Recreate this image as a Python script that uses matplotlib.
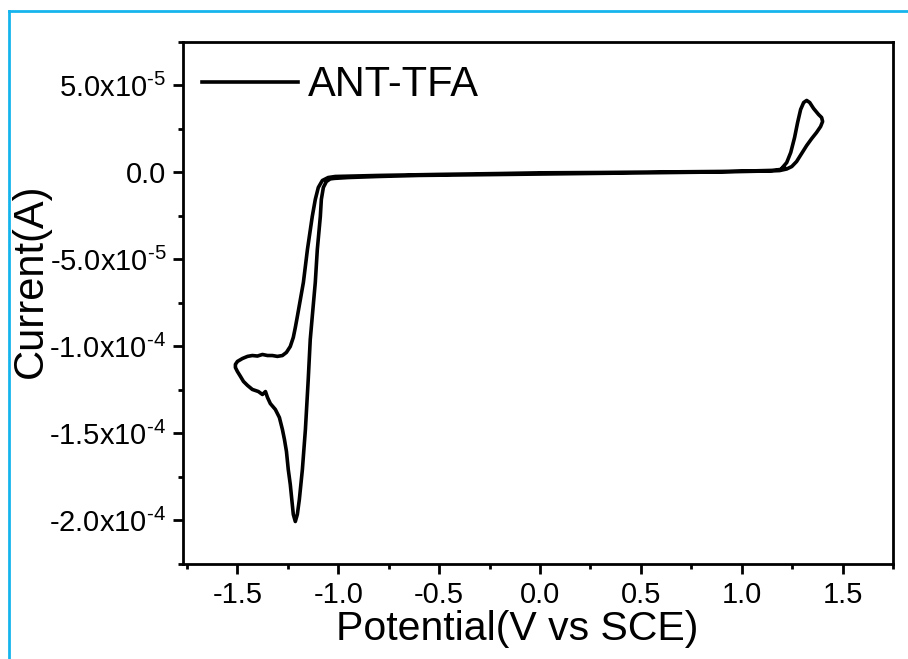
import matplotlib.pyplot as plt
import matplotlib.lines as mlines
from matplotlib.ticker import MultipleLocator, FixedLocator

plt.rcParams['font.family'] = ['Liberation Sans', 'DejaVu Sans']
plt.rcParams['mathtext.fontset'] = 'custom'
plt.rcParams['mathtext.rm'] = 'Liberation Sans'
plt.rcParams['mathtext.it'] = 'Liberation Sans:italic'

# cyclic voltammogram (potential in V, current in 1e-5 A)
potential = [0.00, 0.30, 0.60, 0.90, 1.05, 1.15, 1.19, 1.213,
             1.198, 1.223, 1.243, 1.262, 1.277, 1.292, 1.307, 1.322, 1.337, 1.356,
             1.381, 1.396, 1.401, 1.391, 1.371, 1.347, 1.322, 1.297, 1.272, 1.248,
             1.223, 1.188,
             1.15, 0.90, 0.60, 0.30, 0.00, -0.30, -0.60, -0.80, -0.95, -1.02,
             -1.040, -1.059, -1.074, -1.084, -1.089, -1.104, -1.114, -1.129, -1.139,
             -1.149, -1.163, -1.178, -1.193, -1.203, -1.213, -1.223, -1.228, -1.238,
             -1.248, -1.257, -1.267, -1.277, -1.292, -1.312, -1.337, -1.351, -1.361,
             -1.376, -1.396, -1.426, -1.450, -1.470, -1.485, -1.500, -1.510, -1.510,
             -1.500, -1.475, -1.450, -1.426, -1.401, -1.376, -1.351, -1.327, -1.302,
             -1.277, -1.257, -1.238, -1.223, -1.213, -1.203, -1.188, -1.173, -1.153,
             -1.129, -1.114, -1.099, -1.079, -1.050, -1.015, -0.80, -0.50, -0.20, 0.00]
current = [-0.02, 0.00, 0.03, 0.06, 0.09, 0.12, 0.17, 0.29,
           0.23, 0.57, 1.15, 2.01, 2.87, 3.62, 4.02, 4.14, 4.02, 3.68,
           3.33, 3.16, 2.93, 2.64, 2.30, 1.95, 1.55, 1.09, 0.63, 0.34,
           0.20, 0.11,
           0.09, 0.03, -0.01, -0.05, -0.09, -0.13, -0.17, -0.23, -0.29, -0.34,
           -0.37, -0.52, -0.86, -1.55, -2.53, -4.43, -6.32, -8.28, -9.60,
           -11.90, -14.77, -17.07, -18.79, -19.65, -20.06, -19.65, -19.08, -17.93,
           -17.07, -16.03, -15.34, -14.77, -14.08, -13.62, -13.28, -12.93, -12.59,
           -12.76, -12.59, -12.47, -12.24, -12.01, -11.72, -11.44, -11.21, -11.03,
           -10.86, -10.69, -10.57, -10.52, -10.55, -10.46, -10.52, -10.52, -10.57,
           -10.52, -10.34, -10.00, -9.48, -8.91, -8.28, -7.30, -6.32, -4.43,
           -2.53, -1.55, -0.86, -0.46, -0.29, -0.23, -0.17, -0.11, -0.06, -0.02]
current = [c * 1e-5 for c in current]

xticks = [-1.5, -1.0, -0.5, 0.0, 0.5, 1.0, 1.5]
xlabels = ['-1.5', '-1.0', '-0.5', '0.0', '0.5', '1.0', '1.5']
yticks = [-2.0e-4, -1.5e-4, -1.0e-4, -5.0e-5, 0.0, 5.0e-5]
ylabels = [r'-2.0x10$^{\text{-4}}$', r'-1.5x10$^{\text{-4}}$', r'-1.0x10$^{\text{-4}}$',
           r'-5.0x10$^{\text{-5}}$', '0.0', r'5.0x10$^{\text{-5}}$']

fig = plt.figure(figsize=(9.08, 6.59), dpi=100, facecolor='white')
ax = fig.add_axes([0.2015, 0.1442, 0.782, 0.7921])

ax.plot(potential, current, color='black', lw=2.6, label='ANT-TFA')

ax.set_xlim(-1.77, 1.75)
ax.set_ylim(-2.25e-4, 7.5e-5)
ax.xaxis.set_major_locator(FixedLocator(xticks))
ax.xaxis.set_minor_locator(MultipleLocator(0.25))
ax.set_xticklabels(xlabels)
ax.yaxis.set_major_locator(FixedLocator(yticks))
ax.yaxis.set_minor_locator(MultipleLocator(2.5e-5))
ax.set_yticklabels(ylabels)

for s in ax.spines.values():
    s.set_linewidth(2.0)
ax.tick_params(which='major', direction='out', length=7, width=2.0, labelsize=21, pad=5)
ax.tick_params(which='minor', direction='out', length=3.8, width=2.0)

ax.set_xlabel('Potential(V vs SCE)', fontsize=29.5)
ax.set_ylabel('Current(A)', fontsize=30)
ax.xaxis.set_label_coords(0.470, -0.088)
ax.yaxis.set_label_coords(-0.186, 0.542)

ax.legend(loc='upper left', bbox_to_anchor=(0.027, 0.955), frameon=False,
          fontsize=30, handlelength=2.3, handletextpad=0.25,
          borderpad=0, borderaxespad=0)

# blue frame at top and left of the picture
blue = '#16b4ee'
fig.add_artist(mlines.Line2D([9 / 908, 1.0], [1 - 11 / 659, 1 - 11 / 659],
                             transform=fig.transFigure, color=blue, lw=2))
fig.add_artist(mlines.Line2D([9 / 908, 9 / 908], [0.0, 1 - 11 / 659],
                             transform=fig.transFigure, color=blue, lw=2))

fig.savefig('out.png', dpi=100)
